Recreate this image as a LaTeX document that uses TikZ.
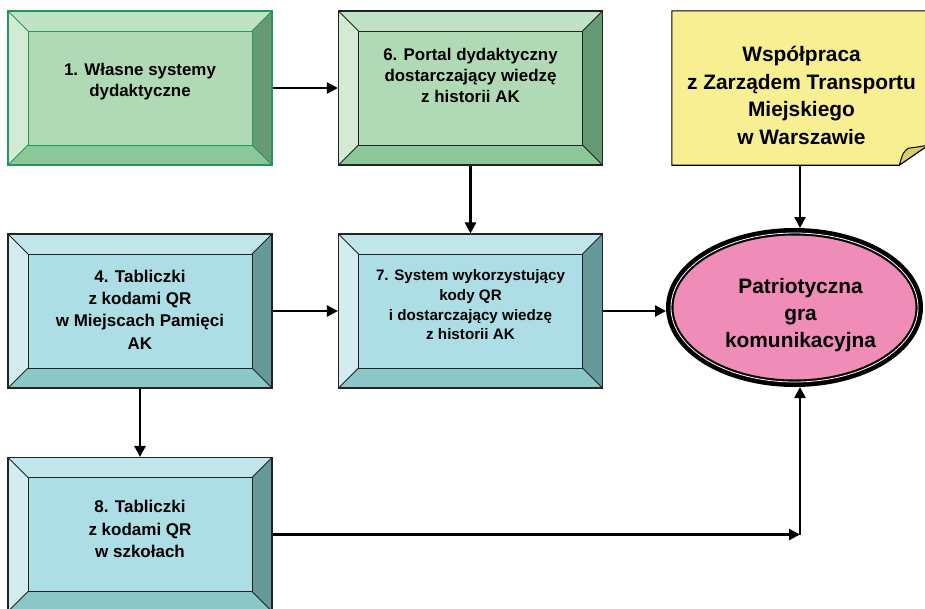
\documentclass[tikz,border=0pt]{standalone}
\usepackage{fontspec}
\setmainfont{Liberation Sans}
\usetikzlibrary{arrows.meta, backgrounds, shapes.geometric}

\definecolor{zielC}{RGB}{176,218,181}
\definecolor{zielT}{RGB}{193,227,197}
\definecolor{zielL}{RGB}{209,235,212}
\definecolor{zielB}{RGB}{140,199,153}
\definecolor{zielR}{RGB}{102,154,118}
\definecolor{zielE}{RGB}{40,150,90}
\definecolor{turC}{RGB}{173,222,229}
\definecolor{turT}{RGB}{192,230,236}
\definecolor{turL}{RGB}{210,236,240}
\definecolor{turB}{RGB}{140,199,199}
\definecolor{turR}{RGB}{102,153,153}
\definecolor{ciemny}{RGB}{35,35,35}
\definecolor{notka}{RGB}{247,239,146}
\definecolor{notkaF}{RGB}{214,205,112}
\definecolor{roz}{RGB}{240,140,184}

\tikzset{
    bevel/.style n args={6}{
        rectangle, draw=#6, line width=1.1pt, fill=#1,
        minimum width=264pt, minimum height=154pt, inner sep=0pt,
        path picture={
            \def\bv{20pt}
            \coordinate (nw) at (path picture bounding box.north west);
            \coordinate (ne) at (path picture bounding box.north east);
            \coordinate (sw) at (path picture bounding box.south west);
            \coordinate (se) at (path picture bounding box.south east);
            \coordinate (inw) at ([xshift=\bv,yshift=-\bv]nw);
            \coordinate (ine) at ([xshift=-\bv,yshift=-\bv]ne);
            \coordinate (isw) at ([xshift=\bv,yshift=\bv]sw);
            \coordinate (ise) at ([xshift=-\bv,yshift=\bv]se);
            \fill[#2] (nw) -- (ne) -- (ine) -- (inw) -- cycle;
            \fill[#3] (nw) -- (sw) -- (isw) -- (inw) -- cycle;
            \fill[#4] (sw) -- (se) -- (ise) -- (isw) -- cycle;
            \fill[#5] (ne) -- (se) -- (ise) -- (ine) -- cycle;
            \draw[#6, line width=1pt] (inw) -- (ine) -- (ise) -- (isw) -- cycle;
            \draw[#6, line width=1pt] (nw) -- (inw) (ne) -- (ine) (sw) -- (isw) (se) -- (ise);
        }
    },
    zielony/.style={bevel={zielC}{zielT}{zielL}{zielB}{zielR}{#1}},
    zielony/.default=ciemny,
    turkus/.style={bevel={turC}{turT}{turL}{turB}{turR}{ciemny}},
    notatka/.style={rectangle, minimum width=256pt, minimum height=154pt, inner sep=0pt},
    elipsa/.style={ellipse, draw=black, line width=7.5pt, fill=roz,
        minimum width=249.5pt, minimum height=151.5pt, inner sep=0pt},
    napis/.style={align=center, inner sep=0pt, text=black},
    srednia/.style={napis, font=\fontsize{16.9pt}{21pt}\selectfont\bfseries},
    mala/.style={napis, font=\fontsize{17pt}{22.3pt}\selectfont\bfseries},
    mala7/.style={napis, font=\fontsize{15.2pt}{19.7pt}\selectfont\bfseries},
    duza/.style={napis, font=\fontsize{20.9pt}{27.4pt}\selectfont\bfseries},
    strz/.style={line width=2.5pt, -{Triangle[length=11pt,width=11pt]}}
}

\begin{document}
\begin{tikzpicture}[x=1pt, y=-1pt]
    \useasboundingbox (0,0) rectangle (925,608);
    % boxes
    \node[zielony=zielE, label={[srednia, yshift=6.5pt]center:{1. Własne systemy\\dydaktyczne}}] (b1) at (140,88) {};
    \node[zielony, label={[srednia, yshift=12.5pt]center:{6. Portal dydaktyczny\\dostarczający wiedzę\\z historii AK}}] (b6) at (470.5,88) {};
    \node[turkus, label={[mala, yshift=1.5pt]center:{4. Tabliczki\\z kodami QR\\w Miejscach Pamięci\\AK}}] (b4) at (140,311) {};
    \node[turkus, label={[mala7, yshift=6pt]center:{7. System wykorzystujący\\kody QR\\i dostarczający wiedzę\\z historii AK}}] (b7) at (470.5,311) {};
    \node[turkus, label={[mala, yshift=5.5pt]center:{8. Tabliczki\\z kodami QR\\w szkołach}}] (b8) at (140,534.5) {};
    \node[notatka, label={[duza, yshift=-7.5pt, xshift=1.5pt]center:{Współpraca\\z Zarządem Transportu\\Miejskiego\\w Warszawie}}] (wsp) at (800,88) {};
    \node[elipsa, label={[duza, yshift=-7.5pt, xshift=6pt]center:{Patriotyczna\\gra\\komunikacyjna}}] (gra) at (794.5,307.5) {};
    \draw[white, line width=0.8pt] (gra.center) ellipse [x radius=123.5pt, y radius=74.5pt];
    % note with folded corner
    \begin{scope}[on background layer]
    \draw[fill=notka, line width=1.1pt] (wsp.north west) -- (wsp.north east) -- ([yshift=20pt]wsp.south east)
        -- ([xshift=-29pt]wsp.south east) -- (wsp.south west) -- cycle;
    \draw[fill=notkaF, line width=1pt] ([xshift=-29pt]wsp.south east)
        .. controls ([xshift=-25pt,yshift=13pt]wsp.south east) .. ([xshift=-20pt,yshift=17pt]wsp.south east)
        .. controls ([xshift=-12pt,yshift=18pt]wsp.south east) .. ([yshift=20pt]wsp.south east) -- cycle;
    \end{scope}
    % connectors
    \draw[strz] (b1) -- (b6);
    \draw[strz] (b6) -- (b7);
    \draw[strz] (b4) -- (b7);
    \draw[strz] (b7.east) -- (b7.east -| gra.west);
    \draw[strz] (wsp.south) -- (wsp.south |- gra.north);
    \draw[strz] (b4) -- (b8);
    \coordinate (kat) at (wsp.south |- b8.east);
    \draw[strz] (b8.east) -- (kat);
    \draw[strz] (kat) -- (kat |- gra.south);
\end{tikzpicture}
\end{document}
